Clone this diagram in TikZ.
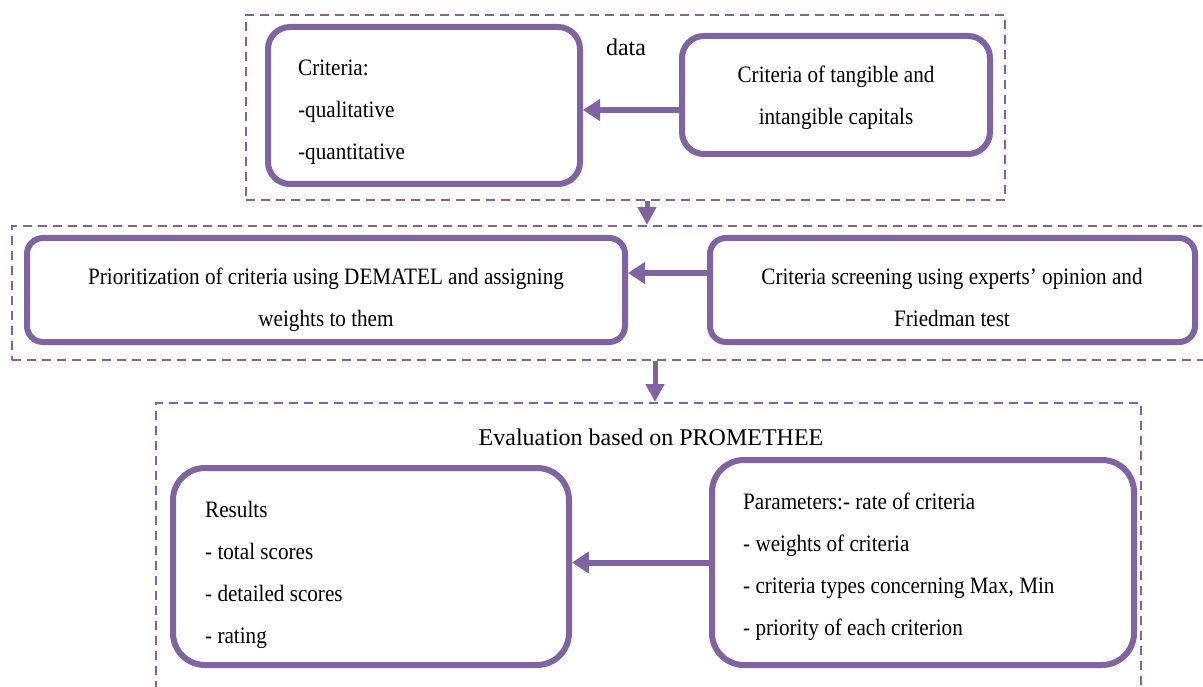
\documentclass[tikz,border=0pt]{standalone}
\usepackage{fontspec}
\setmainfont{Liberation Serif}
\newfontfamily\bodyf{Liberation Serif}[FakeStretch=0.9]
\usetikzlibrary{arrows.meta}
\definecolor{pu}{HTML}{8064A2}
\begin{document}
\begin{tikzpicture}[x=1pt,y=-1pt,
 box/.style={draw=pu,line width=6pt,inner sep=0pt},
 grp/.style={draw=pu,line width=2pt,dash pattern=on 9pt off 6pt,inner sep=0pt},
 txt/.style={inner sep=0pt,font=\bodyf\fontsize{23.5}{42}\selectfont},
 big/.style={inner sep=0pt,font=\fontsize{24}{28}\selectfont},
 arr/.style={draw=pu,line width=6pt,-{Triangle[length=17pt,width=21pt]}},
 darr/.style={draw=pu,line width=5pt,-{Triangle[length=18pt,width=18pt]}}]
\useasboundingbox (0,0) rectangle (1203,687);
% groups
\node[grp,minimum width=759pt,minimum height=185pt] (g1) at (625.5,107.5) {};
\node[grp,minimum width=1203pt,minimum height=134pt] (g2) at (613.5,293) {};
\node[grp,minimum width=985pt,minimum height=317pt] (g3) at (648.5,561.5) {};
% boxes
\node[box,rounded corners=22pt,minimum width=312pt,minimum height=157pt] (A) at (424,105.5) {};
\node[box,rounded corners=22pt,minimum width=308pt,minimum height=118pt] (B) at (836,95) {};
\node[box,rounded corners=16pt,minimum width=598pt,minimum height=104pt] (C) at (326,290) {};
\node[box,rounded corners=16pt,minimum width=485pt,minimum height=104pt] (D) at (952.5,290) {};
\node[box,rounded corners=32pt,minimum width=396pt,minimum height=197pt] (E) at (371,566.5) {};
\node[box,rounded corners=32pt,minimum width=422pt,minimum height=205pt] (F) at (923,562.5) {};
% texts
\node[txt,align=left,anchor=west] (ta) at (298,112.5) {Criteria:\\-qualitative\\-quantitative};
\node[txt,align=center] (tb) at (836,98) {Criteria of tangible and\\intangible capitals};
\node[txt,align=center] (tc) at (326,300) {Prioritization of criteria using DEMATEL and assigning\\weights to them};
\node[txt,align=center] (td) at (952,297.5) {Criteria screening using experts’ opinion and\\Friedman test};
\node[big] (title) at (651,437) {Evaluation based on PROMETHEE};
\node[big] (data) at (626,47) {data};
\node[txt,align=left,anchor=west] (te) at (205,575) {Results\\- total scores\\- detailed scores\\- rating};
\node[txt,align=left,anchor=west] (tf) at (743,567) {Parameters:- rate of criteria\\- weights of criteria\\- criteria types concerning Max, Min\\- priority of each criterion};
% arrows
\draw[arr] ([yshift=-15pt]B.west) -- ([yshift=-15pt]B.west -| A.east);
\draw[arr] ([yshift=17pt]D.west) -- ([yshift=17pt]D.west -| C.east);
\draw[arr] (F.west) -- (F.west -| E.east);
\draw[darr] ([xshift=21.5pt]g1.south) -- ([xshift=21.5pt]g1.south |- g2.north);
\draw[darr] ([xshift=41.5pt]g2.south) -- ([xshift=41.5pt]g2.south |- g3.north);
\end{tikzpicture}
\end{document}
